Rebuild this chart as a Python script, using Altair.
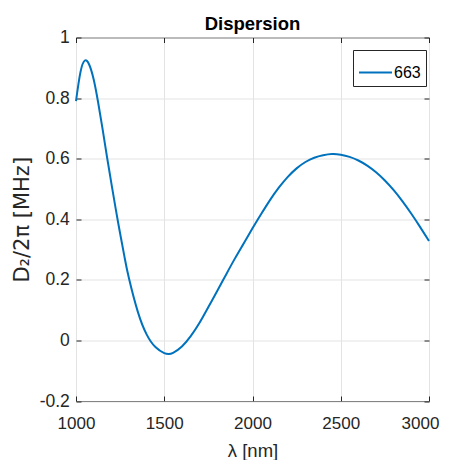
import altair as alt
import pandas as pd

# wavelength in nm
wavelength = [1000, 1025, 1050, 1075, 1100, 1125, 1150, 1175, 1200, 1225, 1250, 1275,
              1300, 1350, 1400, 1450, 1500, 1525, 1550, 1600, 1650, 1700, 1750, 1800,
              1850, 1900, 1950, 2000, 2050, 2100, 2150, 2200, 2250, 2300, 2350, 2400,
              2450, 2500, 2550, 2600, 2650, 2700, 2750, 2800, 2850, 2900, 2950, 3000]
# D2/2pi in MHz
d2 = [0.79, 0.885, 0.924, 0.91, 0.862, 0.787, 0.70, 0.608, 0.52, 0.434, 0.353, 0.275,
      0.205, 0.095, 0.02, -0.022, -0.042, -0.045, -0.041, -0.02, 0.014, 0.058, 0.11, 0.163,
      0.217, 0.27, 0.32, 0.37, 0.418, 0.464, 0.505, 0.54, 0.568, 0.589, 0.603, 0.611,
      0.615, 0.613, 0.606, 0.594, 0.577, 0.555, 0.528, 0.496, 0.459, 0.418, 0.374, 0.328]
series_name = "663"

x_ticks = [1000, 1500, 2000, 2500, 3000]
y_ticks = [-0.2, 0, 0.2, 0.4, 0.6, 0.8, 1]

df = pd.DataFrame({"lambda": wavelength, "D2": d2, "series": [series_name] * len(wavelength)})

SANS = "Liberation Sans"
AX = "#262626"
GRID = "#e3e3e3"

x_scale = alt.Scale(domain=[1000, 3000], nice=False, zero=False)
y_scale = alt.Scale(domain=[-0.2, 1.0], nice=False, zero=False)

main = alt.Chart(df).mark_line(strokeWidth=2, interpolate="natural").encode(
    x=alt.X("lambda:Q", scale=x_scale,
            axis=alt.Axis(orient="bottom", values=x_ticks, format="d", title="λ [nm]",
                          domain=False, grid=True, gridColor=GRID, gridWidth=1,
                          ticks=True, tickSize=5, offset=-5, tickColor=AX,
                          labelFont=SANS, labelFontSize=17, labelColor=AX,
                          labelPadding=14, labelFlush=False, labelOverlap=False,
                          labelOffset={"condition": {"test": "datum.value == 3000", "value": -9},
                                       "value": 0},
                          titleFont=SANS, titleFontSize=18.5, titleFontWeight="normal",
                          titleColor=AX, titleBaseline="alphabetic", titleY=60)),
    y=alt.Y("D2:Q", scale=y_scale,
            axis=alt.Axis(orient="left", values=y_ticks, labelExpr="'' + datum.value",
                          title="D₂/2π [MHz]",
                          domain=False, grid=True, gridColor=GRID, gridWidth=1,
                          ticks=True, tickSize=5, offset=-5, tickColor=AX,
                          labelFont=SANS, labelFontSize=17.5, labelColor=AX,
                          labelPadding=6.7, labelFlush=False, labelOverlap=False,
                          titleFont="DejaVu Sans", titleFontSize=21, titleFontWeight="normal",
                          titleColor=AX, titleBaseline="alphabetic", titleX=-52.7)),
    color=alt.Color("series:N", scale=alt.Scale(range=["#0072BD"]),
                    legend=alt.Legend(title=None, orient="none", legendX=277, legendY=12.5,
                                      symbolType="stroke", symbolSize=1089,
                                      symbolStrokeWidth=2, strokeColor=AX,
                                      fillColor="white", padding=5,
                                      labelFont=SANS, labelFontSize=16,
                                      labelColor="black", labelOffset=1)),
)

frame = alt.Chart(df).mark_line(opacity=0).encode(
    x=alt.X("lambda:Q", scale=x_scale,
            axis=alt.Axis(orient="top", values=x_ticks, labels=False, title=None,
                          domain=False, grid=False, ticks=True, tickSize=5,
                          offset=-5, tickColor=AX)),
    y=alt.Y("D2:Q", scale=y_scale,
            axis=alt.Axis(orient="right", values=y_ticks, labels=False, title=None,
                          domain=False, grid=False, ticks=True, tickSize=5,
                          offset=-5, tickColor=AX)),
)

chart = alt.layer(main, frame).resolve_axis(x="independent", y="independent").properties(
    width=353, height=363.5,
    padding={"left": 68, "top": 29.5, "right": 12, "bottom": 59},
    autosize="none",
    title=alt.TitleParams("Dispersion", font=SANS, fontSize=18.5, fontWeight="bold",
                          color="black", anchor="middle", frame="group", offset=-5),
).configure_view(stroke=AX, strokeWidth=1)

chart.save("out.html", embed_options={"renderer": "svg", "actions": False})
